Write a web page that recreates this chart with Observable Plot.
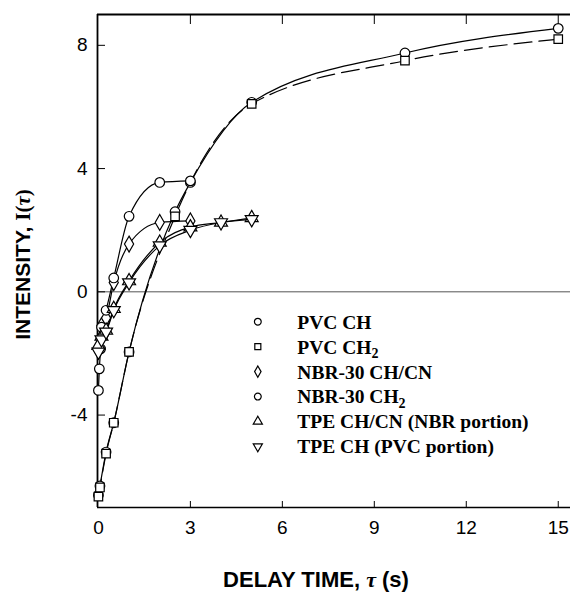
<!DOCTYPE html>
<html><head><meta charset="utf-8">
<script src="https://cdn.jsdelivr.net/npm/d3@7"></script>
<script src="https://cdn.jsdelivr.net/npm/@observablehq/plot@0.6"></script>
<style>body{margin:0;background:#fff}</style>
</head><body><div id="chart"></div>
<script>
// ---- data ----
const xTicks = [0, 3, 6, 9, 12, 15];
const yTicks = [-4, 0, 4, 8];
const xDomain = [-0.03, 15.4];
const yDomain = [-7, 9];

const pvcCH = [[0,-6.6],[0.05,-6.3],[0.25,-5.2],[0.5,-4.25],[1,-1.95],[2.5,2.6],[3,3.55],[5,6.15],[10,7.75],[15,8.55]];
const pvcCH2 = [[0,-6.65],[0.05,-6.35],[0.25,-5.25],[0.5,-4.25],[1,-1.95],[2.5,2.45],[5,6.1],[10,7.5],[15,8.2]];
const nbrCHCN = [[0,-1.9],[0.07,-1.55],[0.1,-1.1],[0.25,-0.85],[0.5,0.3],[1,1.55],[2,2.25],[3,2.3]];
const nbrCH2 = [[0,-3.2],[0.03,-2.5],[0.07,-1.85],[0.1,-1.15],[0.25,-0.6],[0.5,0.45],[1,2.45],[2,3.55],[3,3.6]];
const tpeCHCN = [[0,-1.75],[0.1,-1.45],[0.25,-1.25],[0.5,-0.55],[1,0.35],[2,1.6],[3,2.1],[4,2.25],[5,2.4]];
const tpeCH = [[0,-1.95],[0.1,-1.55],[0.25,-1.3],[0.5,-0.6],[1,0.3],[2,1.5],[3,2.0],[4,2.25],[5,2.35]];

const legendLabels = [["PVC CH",""],["PVC CH","2"],["NBR-30 CH/CN",""],["NBR-30 CH","2"],["TPE CH/CN (NBR portion)",""],["TPE CH (PVC portion)",""]];

// custom downward triangle
const triangleDown = {
  draw(context, size) {
    const s3 = Math.sqrt(3);
    const y = -Math.sqrt(size / (s3 * 3));
    context.moveTo(0, -y * 2);
    context.lineTo(-s3 * y, y);
    context.lineTo(s3 * y, y);
    context.closePath();
  }
};

const series = [
  {data: pvcCH, symbol: "circle", dash: null},
  {data: pvcCH2, symbol: "square", dash: "18,7"},
  {data: nbrCHCN, symbol: "diamond", dash: null},
  {data: nbrCH2, symbol: "circle", dash: null},
  {data: tpeCHCN, symbol: "triangle", dash: null},
  {data: tpeCH, symbol: triangleDown, dash: null}
];

const lineMarks = series.map(s => Plot.line(s.data, {x: d => d[0], y: d => d[1], curve: "monotone-x", stroke: "#000", strokeWidth: 1.2, strokeDasharray: s.dash}));
// dashed PVC CH2 first so the solid PVC CH covers the overlapping part
const orderedLines = [lineMarks[1], lineMarks[0], lineMarks[2], lineMarks[3], lineMarks[4], lineMarks[5]];
const dotMarks = series.map(s => Plot.dot(s.data, {x: d => d[0], y: d => d[1], symbol: () => s.symbol, r: 4.8, fill: "#fff", stroke: "#000", strokeWidth: 1.2}));

const legendX = 5.2, legendY0 = -0.97, legendStep = 0.81;
const legendDots = Plot.dot(series, {x: () => legendX, y: (d, i) => legendY0 - i * legendStep, symbol: d => d.symbol, r: 3.4, fill: "#fff", stroke: "#000", strokeWidth: 1.2});

const plot = Plot.plot({
  width: 570, height: 598,
  marginLeft: 97, marginRight: 0, marginTop: 14, marginBottom: 91,
  x: {domain: xDomain},
  y: {domain: yDomain},
  symbol: {type: "identity"},
  style: {fontFamily: "'Liberation Sans', Arial, sans-serif", fontSize: "19px", color: "#000", background: "#fff"},
  marks: [
    Plot.ruleY([0], {stroke: "#555", strokeWidth: 1}),
    Plot.ruleX([xDomain[0]], {stroke: "#000", strokeWidth: 1.8}),
    Plot.ruleY([yDomain[0]], {stroke: "#000", strokeWidth: 1.6}),
    Plot.ruleY([yDomain[1]], {stroke: "#000", strokeWidth: 1.8}),
    Plot.axisX(xTicks, {anchor: "bottom", tickSize: 0, tickPadding: 13, label: null, tickFormat: d => String(d)}),
    Plot.axisX(xTicks.slice(1), {anchor: "bottom", tickSize: -6, label: null, tickFormat: () => ""}),
    Plot.axisX(xTicks.slice(1), {anchor: "top", tickSize: -9, label: null, tickFormat: () => ""}),
    Plot.axisY(yTicks, {anchor: "left", tickSize: -8, tickPadding: 18, label: null, tickFormat: d => String(d)}),
    ...orderedLines,
    ...dotMarks,
    legendDots
  ]
});

document.getElementById("chart").appendChild(plot);

const svg = d3.select(plot);
const xs = plot.scale("x"), ys = plot.scale("y");

// legend text
const lg = svg.append("g")
  .attr("text-anchor", "start")
  .attr("font-family", "'Liberation Serif', 'Times New Roman', serif")
  .attr("font-weight", "bold").attr("font-size", 19.5);
legendLabels.forEach((lab, i) => {
  const t = lg.append("text")
    .attr("x", xs.apply(legendX) + 40)
    .attr("y", ys.apply(legendY0 - i * legendStep))
    .attr("dy", "0.38em");
  t.append("tspan").text(lab[0]);
  if (lab[1]) t.append("tspan").attr("dy", "0.3em").attr("font-size", 14).text(lab[1]);
});

// axis titles
const yt = svg.append("text")
  .attr("transform", `translate(23,${(14 + 507) / 2 + 4}) rotate(-90)`)
  .attr("text-anchor", "middle").attr("dy", "0.35em")
  .attr("font-family", "'Liberation Sans', Arial, sans-serif").attr("font-weight", "bold").attr("font-size", 21);
yt.append("tspan").text("INTENSITY, ");
yt.append("tspan").attr("font-family", "'Liberation Serif', serif").text("I(");
yt.append("tspan").attr("font-family", "'Liberation Serif', serif").attr("font-style", "italic").text("τ");
yt.append("tspan").attr("font-family", "'Liberation Serif', serif").text(")");

const xt = svg.append("text")
  .attr("x", 316).attr("y", 587)
  .attr("text-anchor", "middle")
  .attr("font-family", "'Liberation Sans', Arial, sans-serif").attr("font-weight", "bold").attr("font-size", 22);
xt.append("tspan").text("DELAY TIME, ");
xt.append("tspan").attr("font-family", "'Liberation Serif', serif").attr("font-style", "italic").text("τ");
xt.append("tspan").text(" (s)");
</script>
</body></html>
